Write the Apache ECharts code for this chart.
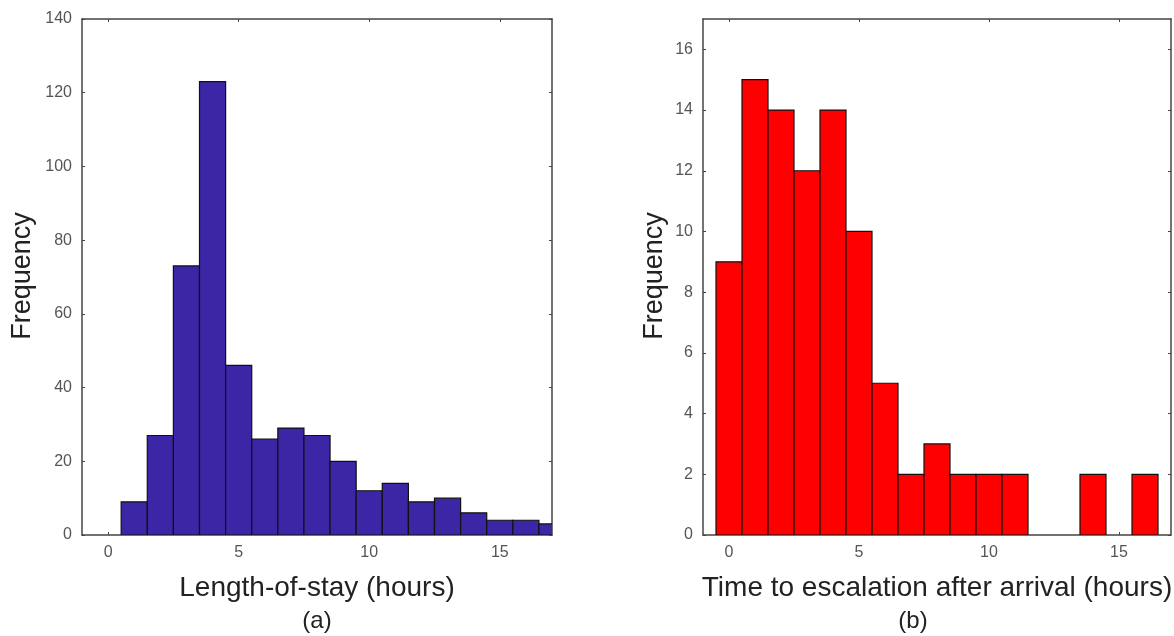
<!DOCTYPE html>
<html>
<head>
<meta charset="utf-8">
<script src="https://cdn.jsdelivr.net/npm/echarts@6/dist/echarts.min.js"></script>
<style>html,body{margin:0;padding:0;background:#fff}#c{width:1174px;height:636px}</style>
</head>
<body>
<div id="c"></div>
<script>
// Panel (a): length-of-stay histogram (bin centers in hours, 1-hour bins)
const losCenters = [1,2,3,4,5,6,7,8,9,10,11,12,13,14,15,16,17];
const losCounts  = [9,27,73,123,46,26,29,27,20,12,14,9,10,6,4,4,3];
// Panel (b): time to escalation histogram
const escCenters = [0,1,2,3,4,5,6,7,8,9,10,11,12,13,14,15,16];
const escCounts  = [9,15,14,12,14,10,5,2,3,2,2,2,0,0,2,0,2];
const xTicks = [0,5,10,15];
const yTicksA = [0,20,40,60,80,100,120,140];
const yTicksB = [0,2,4,6,8,10,12,14,16];

const chart = echarts.init(document.getElementById('c'));
const axisColor = '#444';
const font = 'Liberation Sans, Arial, sans-serif';
const labelStyle = {color:'#555', fontSize:16, fontFamily:font};

function xAx(grid, pos, show){
  return {type:'value', gridIndex:grid, position:pos, min:-1, max:17,
    axisLine:{show:true, onZero:false, lineStyle:{color:axisColor, width:1.5}},
    axisTick:{show:true, inside:true, length:3, customValues:xTicks, lineStyle:{color:axisColor}},
    axisLabel:{show:show, customValues:xTicks, margin:10, ...labelStyle},
    splitLine:{show:false}};
}
function yAx(grid, pos, show, max, ticks){
  return {type:'value', gridIndex:grid, position:pos, min:0, max:max,
    axisLine:{show:true, onZero:false, lineStyle:{color:axisColor, width:1.5}},
    axisTick:{show:true, inside:true, length:3, customValues:ticks, lineStyle:{color:axisColor}},
    axisLabel:{show:show, customValues:ticks, margin:10, ...labelStyle},
    splitLine:{show:false}};
}
function histSeries(xi, yi, centers, counts, color){
  return {type:'custom', xAxisIndex:xi, yAxisIndex:yi, clip:true,
    data: centers.map((c,i)=>[c, counts[i]]),
    renderItem:function(params, api){
      const c = api.value(0), v = api.value(1);
      if (!v) return null;
      const p0 = api.coord([c-0.5, 0]);
      const p1 = api.coord([c+0.5, v]);
      return {type:'rect', shape:{x:p0[0], y:p1[1], width:p1[0]-p0[0], height:p0[1]-p1[1]},
        style:{fill:color, stroke:'#111', lineWidth:1.2}};
    }};
}
chart.setOption({
  animation:false,
  grid:[{left:82, top:19, width:470, height:516},{left:703, top:19, width:468, height:516}],
  xAxis:[xAx(0,'bottom',true), xAx(0,'top',false), xAx(1,'bottom',true), xAx(1,'top',false)],
  yAxis:[yAx(0,'left',true,140,yTicksA), yAx(0,'right',false,140,yTicksA),
         yAx(1,'left',true,17,yTicksB), yAx(1,'right',false,17,yTicksB)],
  series:[histSeries(0,0,losCenters,losCounts,'#3c26a6'),
          histSeries(2,2,escCenters,escCounts,'#ff0000')],
  graphic:[
    {type:'text', x:23, y:276, rotation:Math.PI/2, style:{text:'Frequency', font:'27px '+font, fill:'#222', align:'center', verticalAlign:'middle'}},
    {type:'text', x:655, y:276, rotation:Math.PI/2, style:{text:'Frequency', font:'27px '+font, fill:'#222', align:'center', verticalAlign:'middle'}},
    {type:'text', x:317, y:588, style:{text:'Length-of-stay (hours)', font:'28px '+font, fill:'#222', align:'center', verticalAlign:'middle'}},
    {type:'text', x:317, y:621, style:{text:'(a)', font:'24px '+font, fill:'#222', align:'center', verticalAlign:'middle'}},
    {type:'text', x:937, y:588, style:{text:'Time to escalation after arrival (hours)', font:'28px '+font, fill:'#222', align:'center', verticalAlign:'middle'}},
    {type:'text', x:913, y:621, style:{text:'(b)', font:'24px '+font, fill:'#222', align:'center', verticalAlign:'middle'}}
  ]
});
</script>
</body>
</html>
